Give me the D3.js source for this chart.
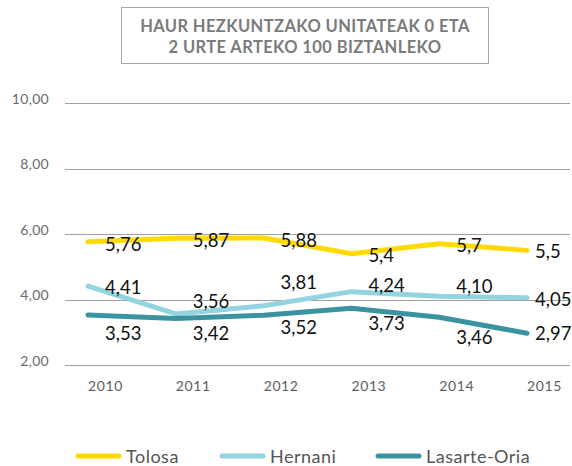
<!DOCTYPE html>
<html>
<head>
<meta charset="utf-8">
<script src="https://cdn.jsdelivr.net/npm/d3@7"></script>
<style>
  html, body { margin: 0; padding: 0; background: #fff; }
  svg { display: block; font-family: Lato, "Open Sans", sans-serif; }
</style>
</head>
<body>
<svg id="chart" width="572" height="466"></svg>
<script>
const years = ["2010", "2011", "2012", "2013", "2014", "2015"];
const tolosa = [5.76, 5.87, 5.88, 5.4, 5.7, 5.5];
const hernani = [4.41, 3.56, 3.81, 4.24, 4.10, 4.05];
const lasarte = [3.53, 3.42, 3.52, 3.73, 3.46, 2.97];
const tolosaLabels = ["5,76", "5,87", "5,88", "5,4", "5,7", "5,5"];
const hernaniLabels = ["4,41", "3,56", "3,81", "4,24", "4,10", "4,05"];
const lasarteLabels = ["3,53", "3,42", "3,52", "3,73", "3,46", "2,97"];
const yTicks = [2, 4, 6, 8, 10];
const seriesNames = ["Tolosa", "Hernani", "Lasarte-Oria"];
const titleLines = ["HAUR HEZKUNTZAKO UNITATEAK 0 ETA", "2 URTE ARTEKO 100 BIZTANLEKO"];

// layout (label nudges, pixels) kept apart from the data
const labelDy = [
  [9, 9, 9, 8, 8, 8],
  [8, -6, -17, 0, -3, 8],
  [25, 22, 19, 22, 27, 7]
];
const colors = ["#FFDA00", "#92D4DF", "#3B939F"];

const series = [
  { name: seriesNames[0], values: tolosa, labels: tolosaLabels },
  { name: seriesNames[1], values: hernani, labels: hernaniLabels },
  { name: seriesNames[2], values: lasarte, labels: lasarteLabels }
];

const svg = d3.select("#chart");

const x = d3.scalePoint().domain(years).range([88, 527]);
const y = d3.scaleLinear().domain([2, 10]).range([365, 103]);

// title box
svg.append("rect").attr("x", 121.5).attr("y", 7.5).attr("width", 367).attr("height", 56)
  .attr("fill", "none").attr("stroke", "#a6a6a6").attr("stroke-width", 1);
svg.append("g").selectAll("text").data(titleLines).join("text")
  .attr("x", 305).attr("y", (d, i) => 32 + i * 21)
  .attr("text-anchor", "middle")
  .attr("font-size", 16.5).attr("font-weight", "bold").attr("fill", "#7b7b7b")
  .attr("letter-spacing", 0.4)
  .text(d => d);

// y gridlines and labels
const yAxis = d3.axisLeft(y).tickValues(yTicks).tickSize(0)
  .tickFormat(d => d3.format(".2f")(d).replace(".", ","));
const gy = svg.append("g").attr("transform", "translate(49,0)").call(yAxis);
gy.select(".domain").remove();
gy.selectAll("text").attr("x", 0).attr("dy", "0").attr("font-size", 14)
  .attr("fill", "#6b6b6b").attr("font-family", "Lato, sans-serif").attr("letter-spacing", 0.3);
svg.append("g").selectAll("line").data(yTicks).join("line")
  .attr("x1", 65).attr("x2", 570)
  .attr("y1", d => Math.round(y(d)) + 0.5).attr("y2", d => Math.round(y(d)) + 0.5)
  .attr("stroke", "#a0a0a0").attr("stroke-width", 1);

// x axis labels
const xAxis = d3.axisBottom(x).tickSize(0);
const gx = svg.append("g").attr("transform", "translate(17,378)").call(xAxis);
gx.select(".domain").remove();
gx.selectAll("text").attr("font-size", 14).attr("fill", "#5e5e5e")
  .attr("font-family", "Lato, sans-serif").attr("letter-spacing", 0.6);

// lines
const line = d3.line().x((d, i) => x(years[i])).y(d => y(d));
svg.append("g").selectAll("path").data(series).join("path")
  .attr("d", d => line(d.values))
  .attr("fill", "none")
  .attr("stroke", (d, i) => colors[i])
  .attr("stroke-width", 5)
  .attr("stroke-linecap", "round")
  .attr("stroke-linejoin", "round");

// data labels
series.forEach((s, si) => {
  svg.append("g").selectAll("text").data(s.values).join("text")
    .attr("x", (d, i) => x(years[i]) + (i === years.length - 1 ? 8 : 17))
    .attr("y", (d, i) => y(d) + labelDy[si][i])
    .attr("font-size", 18.5).attr("fill", "#111")
    .text((d, i) => s.labels[i]);
});

// legend
const legendX = [78, 222, 378];
const lg = svg.append("g").selectAll("g").data(series).join("g")
  .attr("transform", (d, i) => `translate(${legendX[i]},456)`);
lg.append("line").attr("x1", 0).attr("x2", 41).attr("y1", 0).attr("y2", 0)
  .attr("stroke", (d, i) => colors[i]).attr("stroke-width", 5).attr("stroke-linecap", "round");
lg.append("text").attr("x", 48).attr("y", 6.5)
  .attr("font-size", 18).attr("fill", "#555").attr("letter-spacing", 0.5)
  .text(d => d.name);
</script>
</body>
</html>
